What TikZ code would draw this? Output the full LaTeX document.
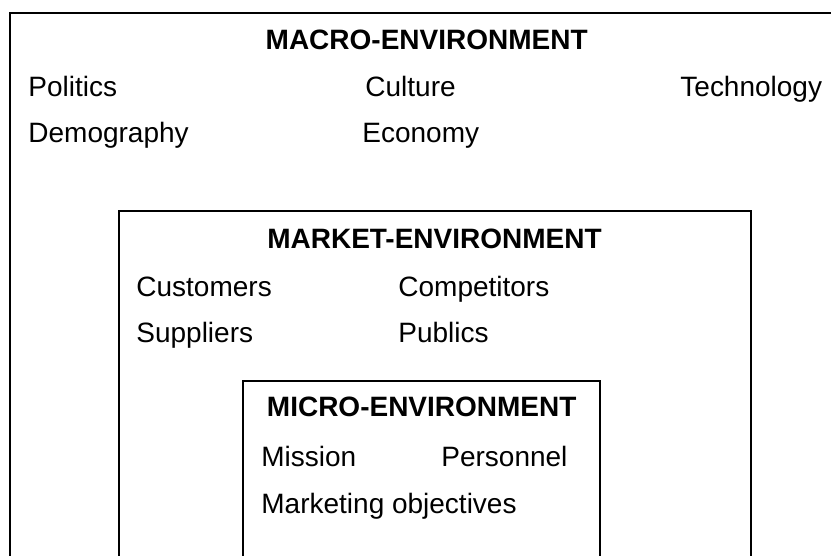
\documentclass[tikz,border=0pt]{standalone}
\usepackage{fontspec}
\setmainfont{Liberation Sans}
\begin{document}
\begin{tikzpicture}[x=0.5pt,y=-0.5pt,
        envtitle/.style={font=\fontsize{14}{16}\selectfont\bfseries, anchor=base, inner sep=0pt},
        factor/.style={font=\fontsize{14}{16}\selectfont, anchor=base west, inner sep=0pt}]
        \useasboundingbox (0,0) rectangle (831,556);
        %riquadri
        \draw[line width=1pt] (9.5,570) -- (9.5,13) -- (850,13);
        \draw[line width=1pt] (119,570) |- (751,210.7) -- (751,570);
        \draw[line width=1pt] (243,570) |- (600,380.7) -- (600,570);
        %macro
        \node[envtitle] (macro) at (426.7,49.3) {MACRO-ENVIRONMENT};
        \node[factor] (politics) at (28,97) {Politics};
        \node[factor] (culture) at (365,97) {Culture};
        \node[factor] (technology) at (680,97) {Technology};
        \node[factor] (demography) at (28,143) {Demography};
        \node[factor] (economy) at (362,143) {Economy};
        %market
        \node[envtitle] (market) at (434.5,248.3) {MARKET-ENVIRONMENT};
        \node[factor] (customers) at (136,296) {Customers};
        \node[factor] (competitors) at (398,296) {Competitors};
        \node[factor] (suppliers) at (136,343) {Suppliers};
        \node[factor] (publics) at (398,343) {Publics};
        %micro
        \node[envtitle] (micro) at (421.7,416.7) {MICRO-ENVIRONMENT};
        \node[factor] (mission) at (261,466) {Mission};
        \node[factor] (personnel) at (441,466) {Personnel};
        \node[factor] (objectives) at (261,513) {Marketing objectives};
\end{tikzpicture}
\end{document}
